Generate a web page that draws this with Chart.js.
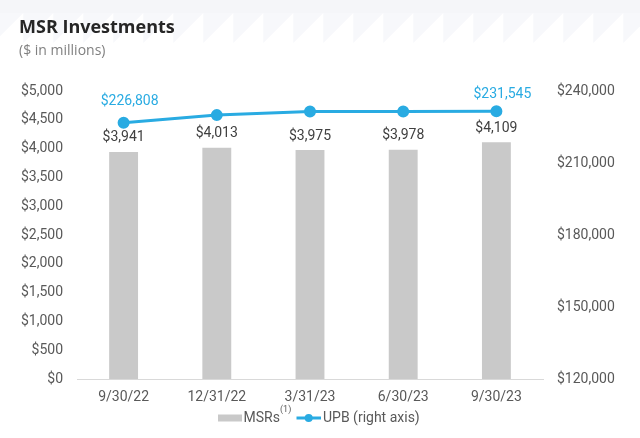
<!DOCTYPE html>
<html>
<head>
<meta charset="utf-8">
<script src="https://cdn.jsdelivr.net/npm/chart.js@4.4.0/dist/chart.umd.min.js"></script>
<style>
  html, body { margin: 0; padding: 0; background: #fff; }
  canvas { display: block; }
</style>
</head>
<body>
<canvas id="chart" width="640" height="438"></canvas>
<script>
// data
const categories = ['9/30/22', '12/31/22', '3/31/23', '6/30/23', '9/30/23'];
const msrValues = [3941, 4013, 3975, 3978, 4109];
const upbValues = [226808, 229950, 231500, 231500, 231545];
const upbLabelled = [0, 4];
const leftTicks = [0, 500, 1000, 1500, 2000, 2500, 3000, 3500, 4000, 4500, 5000];
const rightTicks = [120000, 150000, 180000, 210000, 240000];

const BAR_COLOR = '#c9c9c9';
const LINE_COLOR = '#29abe2';
const AXIS_TEXT = '#595959';

function money(v) {
    return '$' + v.toLocaleString('en-US');
}

// faint triangle band at the top + title text
const backdrop = {
    id: 'backdrop',
    beforeDraw(chart) {
        const ctx = chart.ctx;
        ctx.save();
        ctx.fillStyle = '#fff';
        ctx.fillRect(0, 0, chart.width, chart.height);
        ctx.fillStyle = '#f5f6f9';
        ctx.fillRect(0, 0, chart.width, 13);
        ctx.fillStyle = '#f7f8fb';
        for (let x0 = -6.7; x0 < chart.width; x0 += 30) {
            ctx.beginPath();
            ctx.moveTo(x0, 13);
            ctx.lineTo(x0, 43);
            ctx.lineTo(x0 + 30, 13);
            ctx.closePath();
            ctx.fill();
        }
        ctx.restore();
    },
    afterDraw(chart) {
        const ctx = chart.ctx;
        ctx.save();
        ctx.textAlign = 'left';
        ctx.textBaseline = 'alphabetic';
        ctx.fillStyle = '#262626';
        ctx.font = 'bold 18px "Open Sans"';
        ctx.fillText('MSR Investments', 19, 33);
        ctx.fillStyle = '#808080';
        ctx.font = '14px "Open Sans"';
        ctx.fillText('($ in millions)', 19, 55);
        ctx.restore();
    }
};

// value labels over bars and first/last UPB points
const valueLabels = {
    id: 'valueLabels',
    afterDatasetsDraw(chart) {
        const ctx = chart.ctx;
        ctx.save();
        ctx.textAlign = 'center';
        ctx.textBaseline = 'middle';
        ctx.font = '14px Roboto';
        ctx.fillStyle = '#404040';
        chart.getDatasetMeta(1).data.forEach(function (bar, i) {
            ctx.fillText(money(msrValues[i]), bar.x, bar.y - 14);
        });
        ctx.fillStyle = LINE_COLOR;
        const pts = chart.getDatasetMeta(0).data;
        upbLabelled.forEach(function (i) {
            const dy = i === 0 ? -21 : -17;
            ctx.fillText(money(upbValues[i]), pts[i].x + 6, pts[i].y + dy);
        });
        ctx.restore();
    }
};

// legend drawn by hand so the superscript fits
const bottomLegend = {
    id: 'bottomLegend',
    afterDraw(chart) {
        const ctx = chart.ctx;
        const y = 418;
        ctx.save();
        ctx.fillStyle = BAR_COLOR;
        ctx.fillRect(218, y - 3.5, 24, 7);
        ctx.font = '14px Roboto';
        ctx.fillStyle = AXIS_TEXT;
        ctx.textBaseline = 'middle';
        ctx.textAlign = 'left';
        ctx.fillText('MSRs', 243.5, y);
        ctx.font = '9px Roboto';
        ctx.fillText('(1)', 280, y - 8);
        ctx.strokeStyle = LINE_COLOR;
        ctx.lineWidth = 3;
        ctx.beginPath();
        ctx.moveTo(296.5, y);
        ctx.lineTo(321, y);
        ctx.stroke();
        ctx.fillStyle = LINE_COLOR;
        ctx.beginPath();
        ctx.arc(308.7, y, 4, 0, Math.PI * 2);
        ctx.fill();
        ctx.font = '14px Roboto';
        ctx.fillStyle = AXIS_TEXT;
        ctx.fillText('UPB (right axis)', 323, y);
        ctx.restore();
    }
};

const ctx = document.getElementById('chart');

new Chart(ctx, {
    data: {
        labels: categories,
        datasets: [
            {
                type: 'line',
                label: 'UPB (right axis)',
                data: upbValues,
                yAxisID: 'yRight',
                borderColor: LINE_COLOR,
                backgroundColor: LINE_COLOR,
                borderWidth: 3,
                pointRadius: 4.5,
                pointHoverRadius: 4.5,
                tension: 0,
                order: 0
            },
            {
                type: 'bar',
                label: 'MSRs',
                data: msrValues,
                yAxisID: 'yLeft',
                backgroundColor: BAR_COLOR,
                barPercentage: 0.31,
                categoryPercentage: 1,
                order: 1
            }
        ]
    },
    options: {
        responsive: false,
        animation: false,
        layout: { padding: { top: 91, left: 0, right: 0, bottom: 0 } },
        plugins: {
            legend: { display: false },
            title: { display: false },
            tooltip: { enabled: false }
        },
        scales: {
            x: {
                grid: { display: false, drawTicks: false },
                border: { display: true, color: '#d9d9d9', width: 1 },
                ticks: { color: AXIS_TEXT, font: { family: 'Roboto', size: 14 }, padding: 10, maxRotation: 0 },
                afterFit(scale) { scale.height = 59; }
            },
            yLeft: {
                position: 'left',
                min: 0,
                max: 5000,
                grid: { display: false, drawTicks: false },
                border: { display: false },
                afterBuildTicks(scale) { scale.ticks = leftTicks.map(function (v) { return { value: v }; }); },
                ticks: {
                    color: AXIS_TEXT,
                    font: { family: 'Roboto', size: 14 },
                    padding: 14,
                    callback: function (v) { return money(v); }
                },
                afterFit(scale) { scale.width = 77; }
            },
            yRight: {
                position: 'right',
                min: 120000,
                max: 240000,
                grid: { display: false, drawTicks: false },
                border: { display: false },
                afterBuildTicks(scale) { scale.ticks = rightTicks.map(function (v) { return { value: v }; }); },
                ticks: {
                    color: AXIS_TEXT,
                    font: { family: 'Roboto', size: 14 },
                    padding: 14,
                    callback: function (v) { return money(v); }
                },
                afterFit(scale) { scale.width = 97; }
            }
        }
    },
    plugins: [backdrop, valueLabels, bottomLegend]
});
</script>
</body>
</html>
